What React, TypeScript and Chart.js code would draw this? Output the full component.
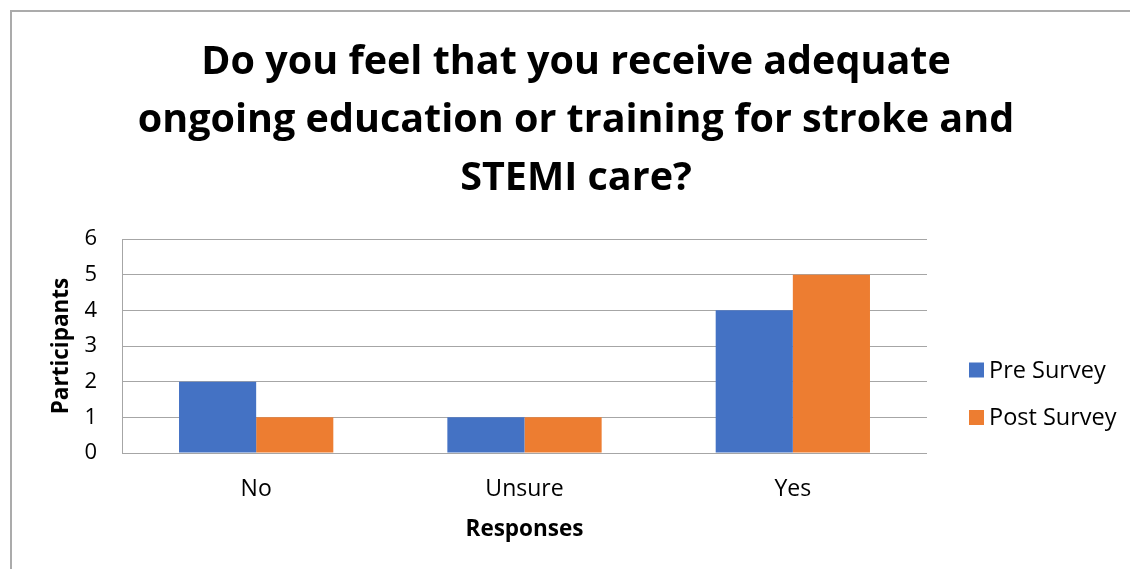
import React, { useEffect, useRef } from "react";
import { Chart, registerables } from "chart.js";

Chart.register(...registerables);

const TITLE_LINES = [
  "Do you feel that you receive adequate",
  "ongoing education or training for stroke and",
  "STEMI care?",
];
const CATEGORIES = ["No", "Unsure", "Yes"];
const PRE_SURVEY = [2, 1, 4];
const POST_SURVEY = [1, 1, 5];
const SERIES_NAMES = ["Pre Survey", "Post Survey"];
const SERIES_COLORS = ["#4472C4", "#ED7D31"];
const Y_TICKS = [0, 1, 2, 3, 4, 5, 6];
const X_TITLE = "Responses";
const Y_TITLE = "Participants";

const FONT = "'Open Sans', 'Noto Sans', sans-serif";

const sideLegend = {
  id: "sideLegend",
  afterDraw(chart: any) {
    const { ctx, chartArea } = chart;
    ctx.save();
    ctx.font = `23.5px ${FONT}`;
    ctx.textBaseline = "middle";
    ctx.textAlign = "left";
    chart.data.datasets.forEach((ds: any, i: number) => {
      const cy = chartArea.top + 131 + i * 47.5;
      const bx = chartArea.right + 42;
      ctx.fillStyle = ds.backgroundColor;
      ctx.fillRect(bx, cy - 7.5, 15, 15);
      ctx.fillStyle = "#000";
      ctx.fillText(ds.label, bx + 20, cy + 1);
    });
    ctx.restore();
  },
};

export default function App() {
  const ref = useRef<HTMLCanvasElement>(null);

  useEffect(() => {
    if (!ref.current) return;
    const chart = new Chart(ref.current, {
      type: "bar",
      data: {
        labels: CATEGORIES,
        datasets: [
          {
            label: SERIES_NAMES[0],
            data: PRE_SURVEY,
            backgroundColor: SERIES_COLORS[0],
            categoryPercentage: 0.575,
            barPercentage: 1,
          },
          {
            label: SERIES_NAMES[1],
            data: POST_SURVEY,
            backgroundColor: SERIES_COLORS[1],
            categoryPercentage: 0.575,
            barPercentage: 1,
          },
        ],
      },
      options: {
        responsive: false,
        animation: false,
        devicePixelRatio: 1,
        layout: { padding: { left: 22, right: 0, top: 0, bottom: 16 } },
        plugins: {
          legend: { display: false },
          tooltip: { enabled: false },
          title: {
            display: true,
            text: TITLE_LINES,
            color: "#000",
            font: { family: FONT, size: 39.5, weight: "bold", lineHeight: 58 / 39.5 },
            padding: { top: 34, bottom: 31 },
          },
        },
        scales: {
          x: {
            grid: { display: false, drawTicks: false },
            border: { display: false },
            ticks: {
              color: "#000",
              font: { family: FONT, size: 23 },
              padding: 23,
            },
            title: {
              display: true,
              text: X_TITLE,
              color: "#000",
              font: { family: FONT, size: 22.5, weight: "bold" },
              padding: { top: 0, bottom: 10 },
            },
            afterFit: (s: any) => {
              s.height = 100;
            },
          },
          y: {
            min: 0,
            max: 6,
            afterBuildTicks: (s: any) => {
              s.ticks = Y_TICKS.map((v) => ({ value: v }));
            },
            grid: { color: "#a6a6a6", lineWidth: 1, drawTicks: false },
            border: { display: true, color: "#a6a6a6", width: 1 },
            ticks: {
              color: "#000",
              font: { family: FONT, size: 22 },
              padding: 25,
            },
            title: {
              display: true,
              text: Y_TITLE,
              color: "#000",
              font: { family: FONT, size: 22.5, weight: "bold" },
              padding: { top: 26, bottom: 0 },
            },
            afterFit: (s: any) => {
              s.width = 100;
            },
          },
          legendSpace: {
            type: "linear",
            position: "right",
            min: 0,
            max: 1,
            grid: { display: false, drawTicks: false },
            border: { display: false },
            ticks: { display: false },
            afterFit: (s: any) => {
              s.width = 203;
            },
          },
        },
      },
      plugins: [sideLegend],
    });
    return () => chart.destroy();
  }, []);

  return (
    <div
      style={{
        position: "fixed",
        left: 0,
        top: 0,
        width: 1130,
        height: 569,
        overflow: "hidden",
        background: "#fff",
      }}
    >
      <div
        style={{
          position: "absolute",
          left: 10,
          top: 10,
          width: 1300,
          height: 800,
          borderLeft: "2px solid #ababab",
          borderTop: "2px solid #ababab",
        }}
      />
      <canvas
        ref={ref}
        width={1130}
        height={569}
        style={{ position: "absolute", left: 0, top: 0 }}
      />
    </div>
  );
}
